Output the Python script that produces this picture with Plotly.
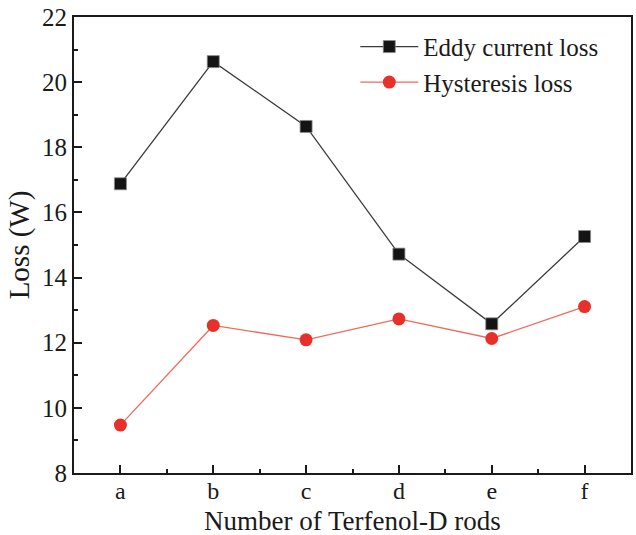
import plotly.graph_objects as go

categories = ["a", "b", "c", "d", "e", "f"]
eddy_loss = [16.88, 20.63, 18.64, 14.72, 12.58, 15.26]
hysteresis_loss = [9.47, 12.53, 12.09, 12.73, 12.13, 13.11]
y_ticks = [8, 10, 12, 14, 16, 18, 20, 22]

FONT = "Liberation Serif, Times New Roman, serif"

fig = go.Figure()
fig.add_trace(go.Scatter(
    x=list(range(len(categories))), y=eddy_loss, name="Eddy current loss",
    mode="lines+markers",
    line=dict(color="#3a3a3a", width=1.3),
    marker=dict(symbol="square", size=12, color="#141414",
                line=dict(color="#8a8a8a", width=0.8)),
))
fig.add_trace(go.Scatter(
    x=list(range(len(categories))), y=hysteresis_loss, name="Hysteresis loss",
    mode="lines+markers",
    line=dict(color="#f06a5a", width=1.3),
    marker=dict(symbol="circle", size=13, color="#e8302a",
                line=dict(width=0)),
))

fig.update_layout(
    width=636, height=535,
    margin=dict(l=74, r=5, t=17, b=62, autoexpand=False),
    paper_bgcolor="white", plot_bgcolor="white",
    font=dict(family=FONT, size=25, color="#1a1a1a"),
    showlegend=True,
    legend=dict(x=0.505, y=0.985, xanchor="left", yanchor="top",
                bgcolor="rgba(0,0,0,0)", font=dict(size=25, family=FONT),
                itemwidth=58, tracegroupgap=0),
    xaxis=dict(
        range=[-0.5, 5.5],
        tickmode="array",
        tickvals=list(range(len(categories))),
        ticktext=categories,
        ticks="inside", ticklen=8, tickwidth=1.5, tickcolor="#1a1a1a",
        minor=dict(ticks="inside", ticklen=4, tickwidth=1.5, tickcolor="#1a1a1a",
                   tickvals=[0.5, 1.5, 2.5, 3.5, 4.5]),
        showline=True, linecolor="#1a1a1a", linewidth=1.8, mirror=True,
        showgrid=False, zeroline=False,
        tickfont=dict(size=24, family=FONT),
        ticklabelstandoff=-5,
        automargin=False,
    ),
    yaxis=dict(
        range=[8, 22],
        tickmode="array", tickvals=y_ticks,
        ticks="inside", ticklen=8, tickwidth=1.5, tickcolor="#1a1a1a",
        minor=dict(ticks="inside", ticklen=4, tickwidth=1.5, tickcolor="#1a1a1a",
                   tickvals=[9, 11, 13, 15, 17, 19, 21]),
        showline=True, linecolor="#1a1a1a", linewidth=1.8, mirror=True,
        showgrid=False, zeroline=False,
        title=dict(text="Loss (W)", standoff=4, font=dict(size=29, family=FONT)),
        tickfont=dict(size=25, family=FONT),
        automargin=False,
    ),
    annotations=[dict(
        text="Number of Terfenol-D rods", xref="paper", yref="paper",
        x=0.5, y=0, xanchor="center", yanchor="bottom", yshift=-64,
        showarrow=False, font=dict(size=27, family=FONT, color="#1a1a1a"),
        borderpad=0,
    )],
)

fig.write_html("out.html")
